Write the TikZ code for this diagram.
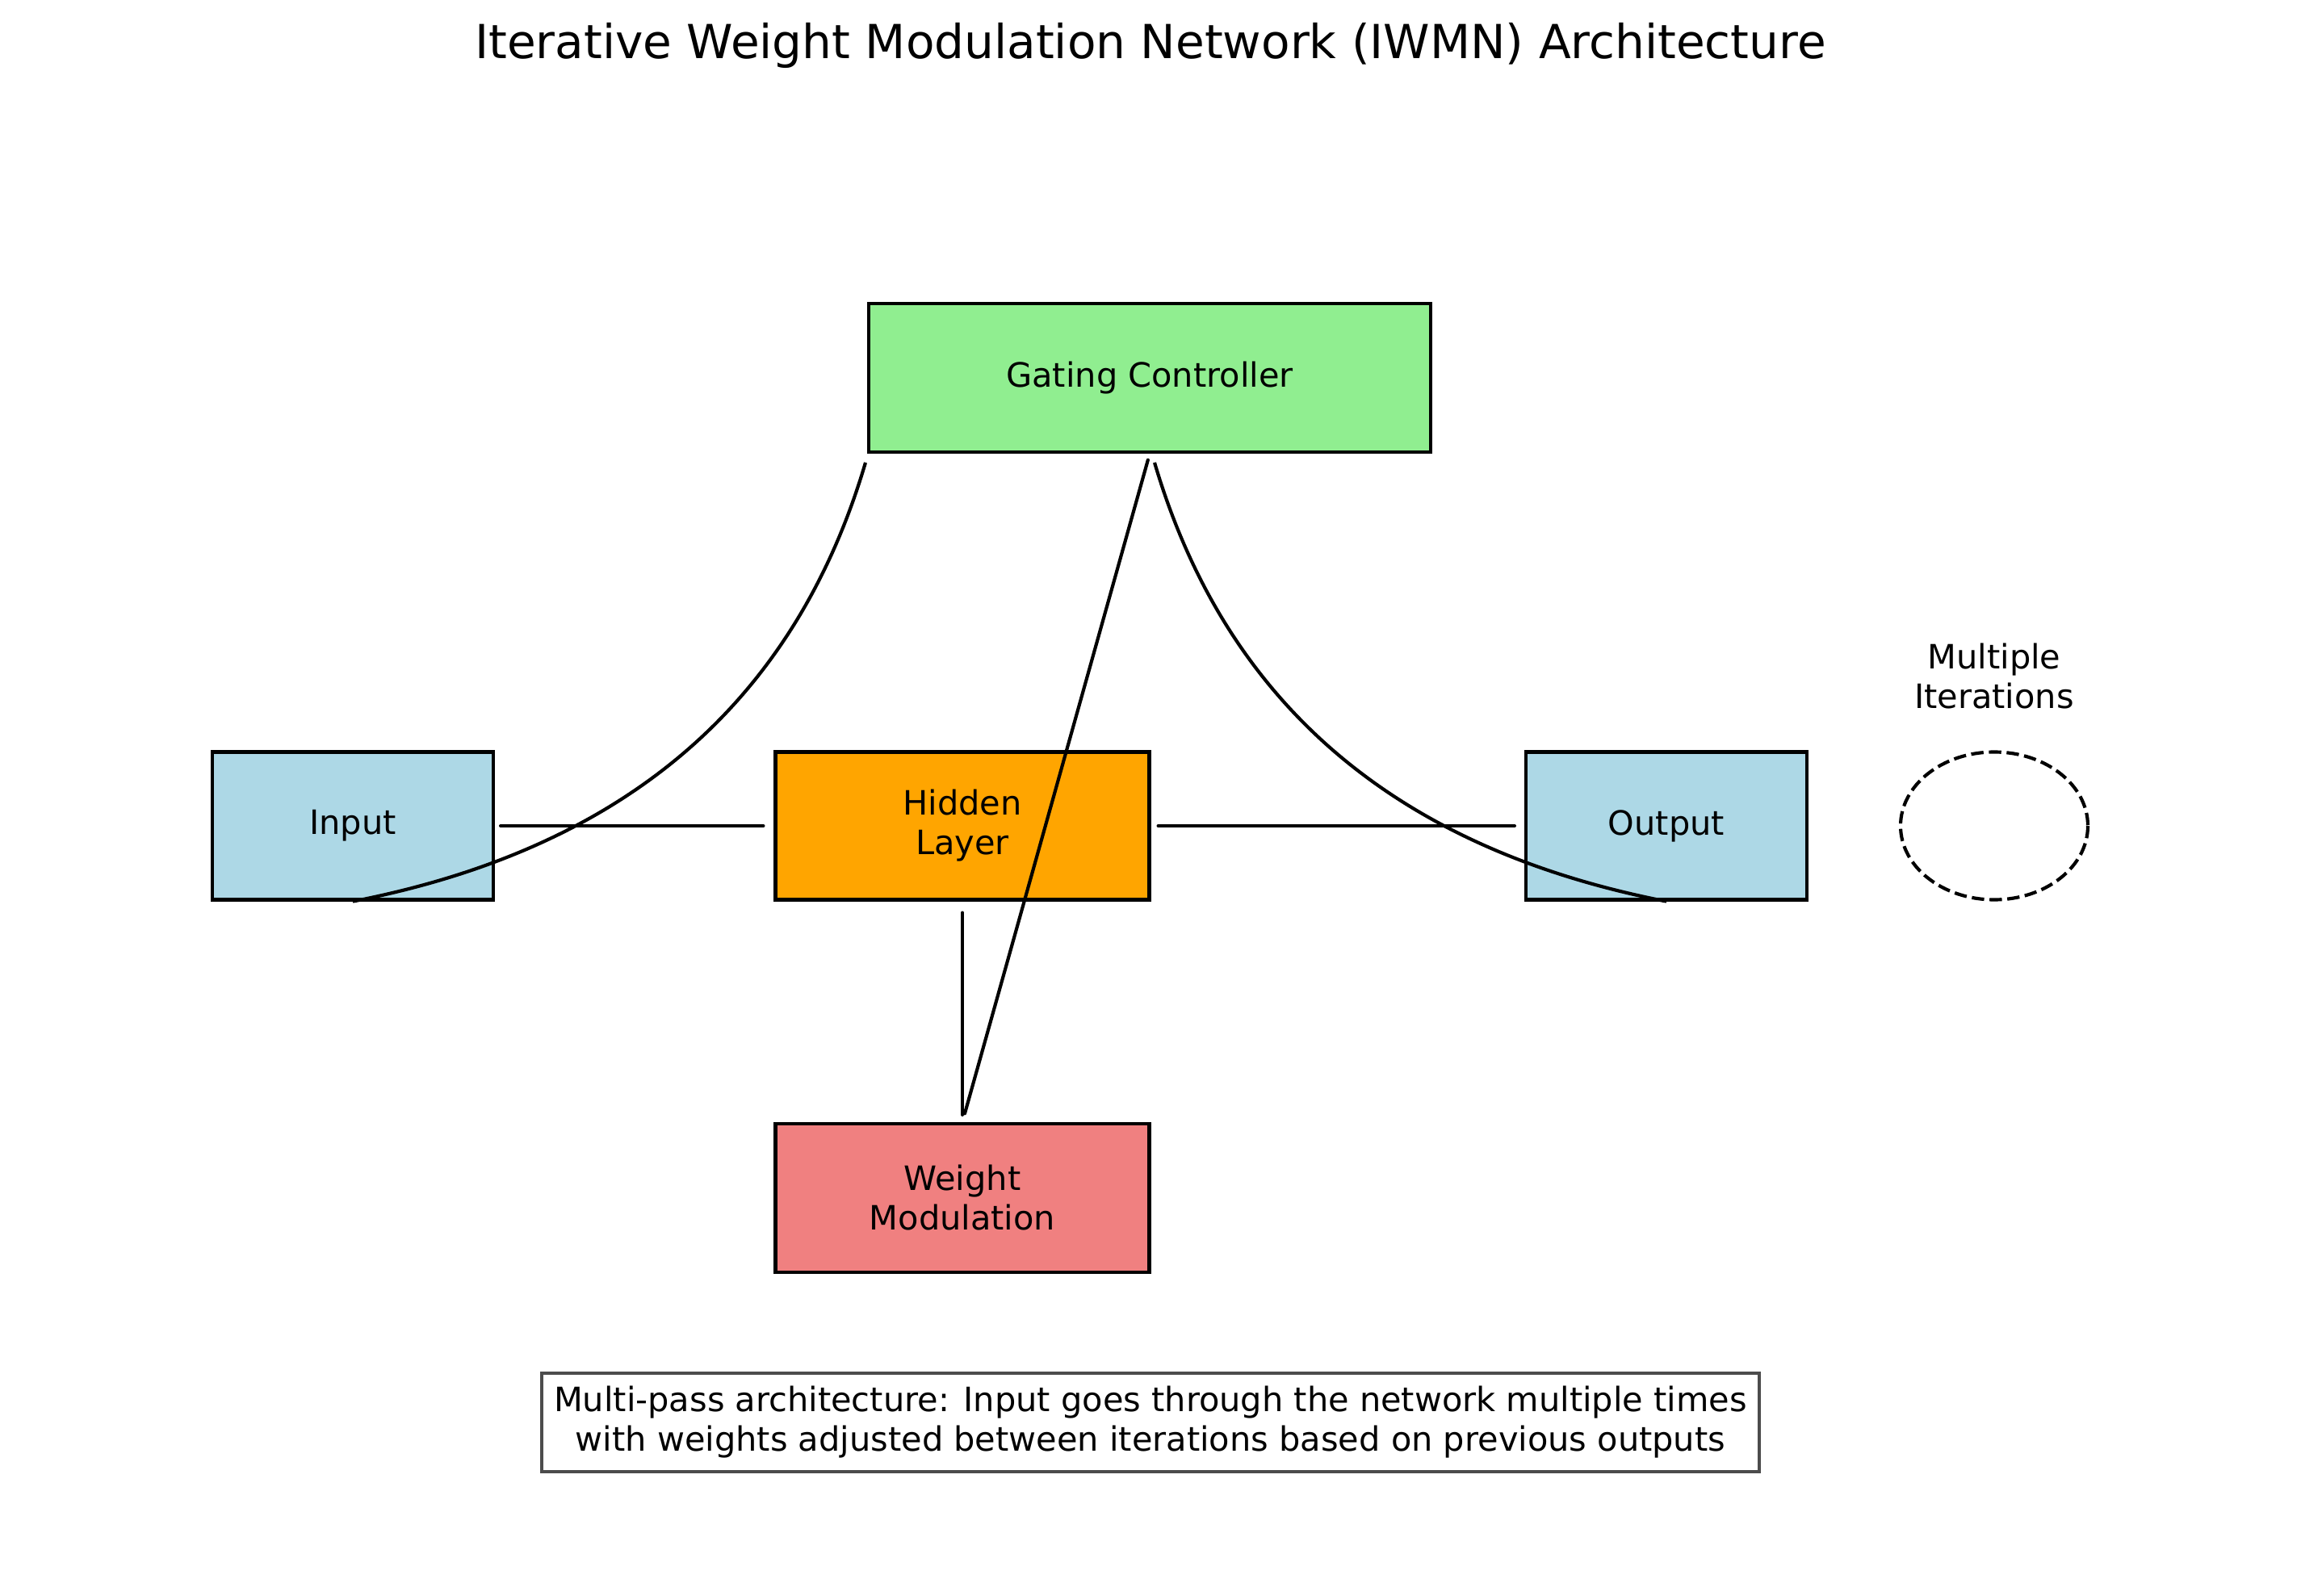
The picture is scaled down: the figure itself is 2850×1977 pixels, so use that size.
\documentclass[tikz,border=0pt]{standalone}
\usepackage{fontspec}
\setmainfont{DejaVu Sans}
\def\pxu{0.2409pt}
\definecolor{lblue}{HTML}{ADD8E6}
\definecolor{lorange}{HTML}{FFA500}
\definecolor{lgreen}{HTML}{90EE90}
\definecolor{lcoral}{HTML}{F08080}
\tikzset{
  box/.style={draw=black, line width=1pt, inner sep=0pt, align=center,
    font=\fontsize{10}{11.8}\selectfont},
  conn/.style={draw=black, line width=1pt, line cap=round},
  lbl/.style={align=center, inner sep=0pt, font=\fontsize{10}{11.8}\selectfont}
}
\begin{document}
\begin{tikzpicture}[x=0.2409pt, y=-0.2409pt]
\useasboundingbox (0,0) rectangle (2850,1977);
% title
\node[inner sep=0pt, font=\fontsize{14}{16.8}\selectfont] (title) at (1425,56) {Iterative Weight Modulation Network (IWMN) Architecture};
% boxes
\node[box, fill=lgreen, minimum width=696*\pxu, minimum height=184*\pxu] (gate) at (1424,468) {Gating Controller};
\node[box, fill=lblue, minimum width=348*\pxu, minimum height=183*\pxu] (inp) at (437,1023) {Input};
\node[box, fill=lorange, minimum width=463*\pxu, minimum height=183*\pxu] (hid) at (1192,1023) {Hidden\\Layer};
\node[box, fill=lblue, minimum width=348*\pxu, minimum height=183*\pxu] (out) at (2064,1023) {Output};
\node[box, fill=lcoral, minimum width=463*\pxu, minimum height=184*\pxu] (wmod) at (1192,1484) {Weight\\Modulation};
% iterations
\draw[line width=1pt, dashed, dash pattern=on 3.7pt off 1.6pt] (2470,1023) ellipse [x radius=116, y radius=91.5];
\node[lbl] (iter) at (2470,838) {Multiple\\Iterations};
% connectors
\draw[conn, shorten <=7*\pxu, shorten >=13*\pxu] (inp.east) -- (hid.west);
\draw[conn, shorten <=9*\pxu, shorten >=12*\pxu] (hid.east) -- (out.west);
\draw[conn, shorten <=14*\pxu, shorten >=9*\pxu] (hid.south) -- (wmod.north);
\draw[conn, shorten <=8*\pxu, shorten >=11*\pxu] (gate.south) -- (wmod.north);
\coordinate (gl) at (1072,573);
\coordinate (gr) at (1430,573);
\draw[conn, line cap=butt] (inp.south) .. controls (774,1051) and (984,871) .. (gl);
\draw[conn, line cap=butt] (gr) .. controls (1518,871) and (1728,1051) .. (out.south);
% note
\node[draw=black!70, line width=1pt, fill=white, align=center, inner sep=0pt,
  minimum width=1508*\pxu, minimum height=122*\pxu, font=\fontsize{10}{11.8}\selectfont] (note) at (1425,1762)
  {Multi-pass architecture: Input goes through the network multiple times\\with weights adjusted between iterations based on previous outputs};
\end{tikzpicture}
\end{document}
